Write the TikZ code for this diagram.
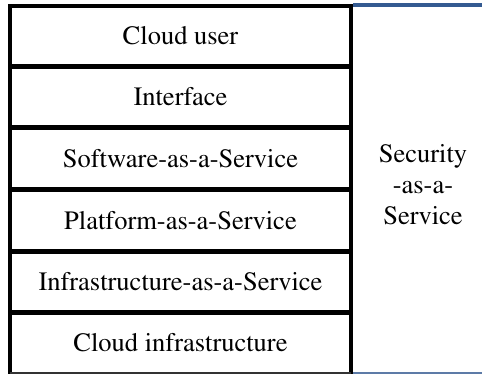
\documentclass[tikz,border=0pt]{standalone}
\usepackage[T1]{fontenc}
\usepackage{times}
\definecolor{rulerblue}{RGB}{52,90,145}
\begin{document}
\begin{tikzpicture}[x=1pt,y=-1pt,
  layer/.style={font=\rmfamily\fontsize{26.5}{31}\selectfont, inner sep=0pt, anchor=center},
  frame/.style={line width=4pt, black, line cap=rect},
  sep/.style={line width=5pt, black},
  bluerule/.style={line width=3.5pt, rulerblue}]
\useasboundingbox (0,0) rectangle (482,374);
\fill[white] (0,0) rectangle (482,374);

% stacked layers
\node[layer] (user)  at (180.5,36)  {Cloud user};
\node[layer] (iface) at (180.5,97)  {Interface};
\node[layer] (saas)  at (180.5,159) {Software-as-a-Service};
\node[layer] (paas)  at (180.5,221) {Platform-as-a-Service};
\node[layer] (iaas)  at (180.5,282) {Infrastructure-as-a-Service};
\node[layer] (cinf)  at (180.5,343) {Cloud infrastructure};

% security column
\node[layer, align=center] (secaas) at (423,185) {Security\\-as-a-\\Service};

% outer frame of the stack
\draw[frame] (10,6) -- (351,6);
\draw[frame] (10,6) -- (10,373);
\draw[frame] (351,6) -- (351,373);
\draw[line width=1.5pt, black!80] (10,373) -- (351,373);

% separators between layers
\foreach \yy in {66.5,127.5,190,251.5,312.5}
  \draw[sep] (10,\yy) -- (351,\yy);

% blue rules bounding the security column
\draw[bluerule] (353,5) -- (482,5);
\draw[line width=1.5pt, rulerblue!80] (353,373) -- (482,373);
\end{tikzpicture}
\end{document}
